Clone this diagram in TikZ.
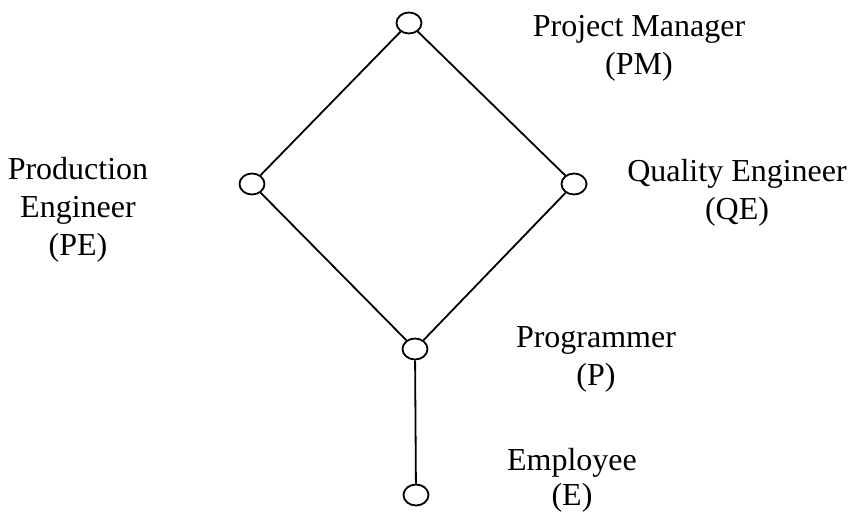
\documentclass[tikz,border=0pt]{standalone}
\usepackage{fontspec}
\setmainfont{Liberation Serif}
\usetikzlibrary{shapes.geometric}
\begin{document}
\begin{tikzpicture}[x=1pt,y=-1pt,
  vert/.style={draw,line width=1.8pt,ellipse,minimum width=25pt,minimum height=21pt,inner sep=0pt},
  edge/.style={line width=1.8pt},
  lbl/.style={align=center,inner sep=0pt,font=\fontsize{32}{38}\selectfont}]
\useasboundingbox (0,0) rectangle (852,513);
\node[vert] (pm) at (409,23) {};
\node[vert] (pe) at (252,184) {};
\node[vert] (qe) at (574,184) {};
\node[vert] (p) at (415,349) {};
\node[vert] (e) at (416,495) {};
\draw[edge] (pm) -- (pe);
\draw[edge] (pm) -- (qe);
\draw[edge] (pe) -- (p);
\draw[edge] (qe) -- (p);
\draw[edge] (p) -- (e);
\node[lbl] (tpm) at (639,48) {Project Manager\\(PM)};
\node[lbl] (tpe) at (78,210) {Production\\Engineer\\(PE)};
\node[lbl] (tqe) at (737,193) {Quality Engineer\\(QE)};
\node[lbl] (tp) at (596,359) {Programmer\\(P)};
\node[lbl,font=\fontsize{32}{35}\selectfont] (te) at (572,480) {Employee\\(E)};
\end{tikzpicture}
\end{document}
